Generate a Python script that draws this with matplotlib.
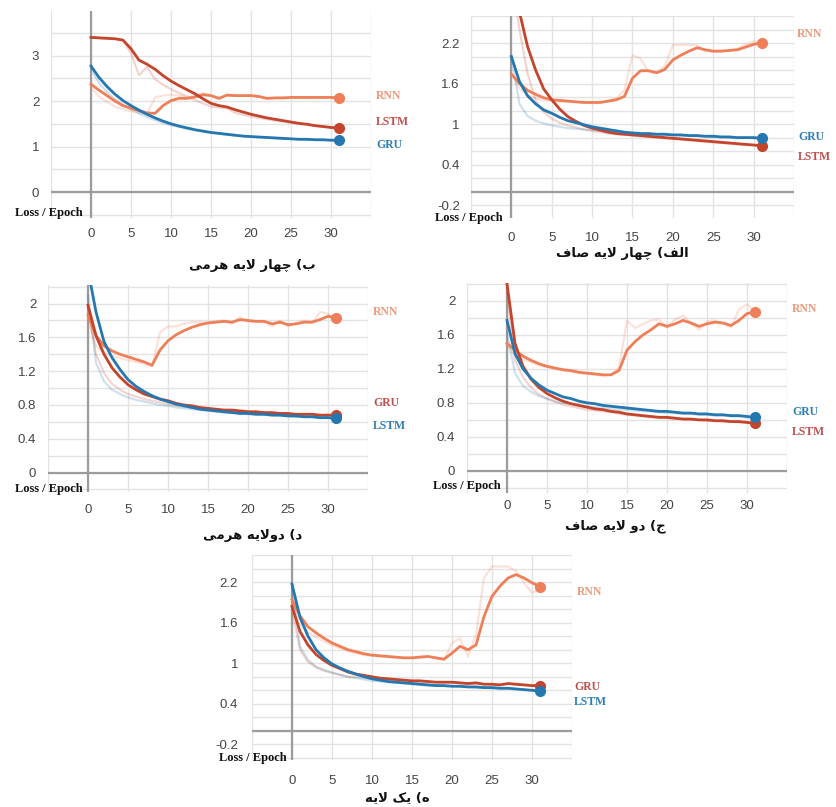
import matplotlib
matplotlib.use("Agg")
import matplotlib.pyplot as plt

W, H = 837, 807

epochs = list(range(32))
x_ticks = [-5, 0, 5, 10, 15, 20, 25, 30, 35]
x_tick_labels = ["", "0", "5", "10", "15", "20", "25", "30", ""]

# panel b (four layer pyramid)
rnn_b = [2.37, 2.24, 2.12, 2.00, 1.90, 1.84, 1.79, 1.74, 1.73, 1.90, 2.01, 2.06, 2.06, 2.09, 2.14, 2.12,
         2.06, 2.13, 2.12, 2.12, 2.12, 2.10, 2.06, 2.07, 2.07, 2.08, 2.08, 2.08, 2.08, 2.08, 2.08, 2.07]
rnn_b_raw = [2.30, 2.10, 1.98, 1.88, 1.82, 1.78, 1.74, 1.72, 2.08, 2.12, 2.14, 2.12, 2.08, 2.12, 2.18, 2.12,
             2.04, 2.15, 2.12, 2.12, 2.13, 2.09, 2.05, 2.07, 2.08, 2.08, 2.08, 2.08, 2.09, 2.08, 2.08, 2.07]
lstm_b = [3.40, 3.39, 3.38, 3.37, 3.34, 3.15, 2.90, 2.81, 2.70, 2.56, 2.44, 2.34, 2.25, 2.16, 2.05, 1.95,
          1.90, 1.87, 1.81, 1.76, 1.71, 1.67, 1.63, 1.60, 1.57, 1.54, 1.51, 1.49, 1.46, 1.44, 1.42, 1.41]
lstm_b_raw = [3.40, 3.38, 3.37, 3.36, 3.34, 3.05, 2.57, 2.75, 2.48, 2.36, 2.26, 2.18, 2.10, 2.02, 1.95, 1.88,
              1.86, 1.84, 1.74, 1.70, 1.66, 1.63, 1.60, 1.57, 1.55, 1.52, 1.50, 1.48, 1.46, 1.44, 1.42, 1.41]
gru_b = [2.77, 2.52, 2.32, 2.15, 2.01, 1.90, 1.80, 1.71, 1.63, 1.56, 1.50, 1.45, 1.41, 1.37, 1.34, 1.31,
         1.29, 1.27, 1.25, 1.23, 1.22, 1.21, 1.20, 1.19, 1.18, 1.17, 1.16, 1.16, 1.15, 1.15, 1.14, 1.14]
gru_b_raw = [2.70, 2.40, 2.20, 2.04, 1.92, 1.82, 1.73, 1.65, 1.58, 1.52, 1.47, 1.43, 1.39, 1.36, 1.33, 1.30,
             1.28, 1.26, 1.24, 1.23, 1.21, 1.20, 1.19, 1.18, 1.17, 1.17, 1.16, 1.15, 1.15, 1.14, 1.14, 1.14]

# panel alef (four layer flat)
rnn_a = [1.74, 1.60, 1.50, 1.44, 1.39, 1.36, 1.35, 1.34, 1.33, 1.32, 1.32, 1.32, 1.34, 1.36, 1.41, 1.68,
         1.79, 1.79, 1.76, 1.81, 1.95, 2.02, 2.08, 2.13, 2.10, 2.08, 2.08, 2.09, 2.10, 2.14, 2.18, 2.20]
rnn_a_raw = [1.75, 1.53, 1.43, 1.38, 1.35, 1.34, 1.33, 1.33, 1.32, 1.32, 1.31, 1.33, 1.35, 1.38, 1.50, 2.02,
             1.97, 1.77, 1.76, 1.86, 2.17, 2.17, 2.17, 2.17, 2.08, 2.07, 2.08, 2.09, 2.12, 2.18, 2.22, 2.22]
lstm_a = [3.40, 2.66, 2.15, 1.80, 1.52, 1.36, 1.22, 1.11, 1.04, 0.98, 0.94, 0.91, 0.88, 0.86, 0.85, 0.84,
          0.83, 0.82, 0.81, 0.80, 0.79, 0.78, 0.77, 0.76, 0.75, 0.74, 0.73, 0.72, 0.71, 0.70, 0.69, 0.68]
lstm_a_raw = [3.20, 2.40, 1.75, 1.35, 1.18, 1.08, 1.02, 0.98, 0.95, 0.92, 0.90, 0.88, 0.86, 0.85, 0.84, 0.83,
              0.82, 0.81, 0.80, 0.79, 0.78, 0.77, 0.76, 0.75, 0.74, 0.73, 0.72, 0.71, 0.70, 0.69, 0.69, 0.68]
gru_a = [2.00, 1.63, 1.42, 1.30, 1.21, 1.16, 1.10, 1.05, 1.02, 0.99, 0.96, 0.94, 0.92, 0.90, 0.88, 0.87,
         0.86, 0.86, 0.85, 0.85, 0.84, 0.84, 0.83, 0.83, 0.82, 0.82, 0.81, 0.81, 0.80, 0.80, 0.80, 0.79]
gru_a_raw = [2.00, 1.30, 1.12, 1.05, 1.01, 0.98, 0.96, 0.94, 0.93, 0.92, 0.91, 0.90, 0.89, 0.88, 0.87, 0.86,
             0.86, 0.85, 0.85, 0.84, 0.84, 0.83, 0.83, 0.82, 0.82, 0.81, 0.81, 0.80, 0.80, 0.80, 0.79, 0.79]

# panel dal (two layer pyramid)
rnn_d = [1.86, 1.62, 1.50, 1.44, 1.40, 1.37, 1.34, 1.31, 1.27, 1.45, 1.56, 1.63, 1.68, 1.72, 1.75, 1.77,
         1.78, 1.79, 1.78, 1.81, 1.80, 1.79, 1.79, 1.76, 1.78, 1.75, 1.76, 1.78, 1.78, 1.81, 1.85, 1.83]
rnn_d_raw = [1.80, 1.50, 1.42, 1.38, 1.36, 1.33, 1.31, 1.29, 1.26, 1.66, 1.73, 1.73, 1.76, 1.78, 1.78, 1.78,
             1.79, 1.80, 1.76, 1.84, 1.79, 1.78, 1.79, 1.73, 1.80, 1.73, 1.77, 1.80, 1.77, 1.90, 1.88, 1.82]
gru_d = [1.98, 1.62, 1.40, 1.24, 1.13, 1.04, 0.98, 0.93, 0.90, 0.87, 0.85, 0.82, 0.80, 0.79, 0.77, 0.76,
         0.75, 0.74, 0.74, 0.73, 0.72, 0.72, 0.71, 0.71, 0.70, 0.70, 0.69, 0.69, 0.69, 0.68, 0.68, 0.68]
gru_d_raw = [1.95, 1.40, 1.18, 1.05, 0.98, 0.93, 0.90, 0.87, 0.85, 0.83, 0.81, 0.79, 0.78, 0.77, 0.76, 0.75,
             0.74, 0.73, 0.73, 0.72, 0.72, 0.71, 0.71, 0.70, 0.70, 0.69, 0.69, 0.69, 0.68, 0.68, 0.68, 0.68]
lstm_d = [2.40, 1.90, 1.55, 1.36, 1.22, 1.10, 1.02, 0.96, 0.91, 0.87, 0.84, 0.81, 0.79, 0.77, 0.75, 0.74,
          0.73, 0.72, 0.71, 0.70, 0.70, 0.69, 0.69, 0.68, 0.68, 0.67, 0.67, 0.66, 0.66, 0.65, 0.65, 0.64]
lstm_d_raw = [2.10, 1.30, 1.08, 0.98, 0.93, 0.89, 0.86, 0.84, 0.82, 0.80, 0.79, 0.77, 0.76, 0.75, 0.74, 0.73,
              0.72, 0.71, 0.71, 0.70, 0.69, 0.69, 0.68, 0.68, 0.67, 0.67, 0.66, 0.66, 0.66, 0.65, 0.65, 0.64]

# panel jim (two layer flat)
rnn_c = [1.50, 1.42, 1.35, 1.30, 1.26, 1.23, 1.21, 1.19, 1.18, 1.16, 1.15, 1.14, 1.13, 1.13, 1.18, 1.42,
         1.52, 1.60, 1.66, 1.73, 1.70, 1.73, 1.77, 1.74, 1.70, 1.73, 1.75, 1.74, 1.71, 1.77, 1.85, 1.87]
rnn_c_raw = [1.48, 1.36, 1.31, 1.28, 1.24, 1.22, 1.20, 1.18, 1.17, 1.15, 1.14, 1.13, 1.12, 1.13, 1.22, 1.77,
             1.68, 1.73, 1.77, 1.78, 1.69, 1.78, 1.83, 1.73, 1.66, 1.76, 1.77, 1.73, 1.69, 1.90, 1.96, 1.88]
lstm_c = [2.20, 1.50, 1.23, 1.08, 0.98, 0.91, 0.86, 0.82, 0.79, 0.77, 0.75, 0.73, 0.72, 0.70, 0.69, 0.67,
          0.66, 0.65, 0.64, 0.63, 0.63, 0.62, 0.61, 0.61, 0.60, 0.60, 0.59, 0.59, 0.58, 0.58, 0.57, 0.56]
lstm_c_raw = [2.10, 1.30, 1.10, 0.98, 0.90, 0.85, 0.81, 0.78, 0.76, 0.74, 0.72, 0.71, 0.70, 0.69, 0.67, 0.66,
              0.65, 0.64, 0.63, 0.63, 0.62, 0.61, 0.61, 0.60, 0.60, 0.59, 0.59, 0.58, 0.58, 0.57, 0.57, 0.56]
gru_c = [1.77, 1.38, 1.20, 1.09, 1.01, 0.95, 0.91, 0.87, 0.85, 0.82, 0.80, 0.79, 0.77, 0.76, 0.75, 0.74,
         0.73, 0.72, 0.71, 0.70, 0.70, 0.69, 0.68, 0.68, 0.67, 0.67, 0.66, 0.66, 0.65, 0.65, 0.64, 0.63]
gru_c_raw = [1.62, 1.15, 1.00, 0.93, 0.88, 0.85, 0.82, 0.80, 0.79, 0.77, 0.76, 0.75, 0.74, 0.73, 0.72, 0.72,
             0.71, 0.70, 0.70, 0.69, 0.68, 0.68, 0.67, 0.67, 0.66, 0.66, 0.65, 0.65, 0.64, 0.64, 0.63, 0.63]

# panel he (one layer)
rnn_e = [1.94, 1.70, 1.54, 1.45, 1.37, 1.30, 1.25, 1.20, 1.17, 1.14, 1.12, 1.11, 1.10, 1.09, 1.08, 1.08,
         1.09, 1.10, 1.08, 1.06, 1.15, 1.25, 1.20, 1.27, 1.69, 1.99, 2.14, 2.26, 2.31, 2.26, 2.19, 2.13]
rnn_e_raw = [1.90, 1.58, 1.46, 1.39, 1.32, 1.27, 1.22, 1.18, 1.15, 1.12, 1.11, 1.10, 1.09, 1.08, 1.08, 1.08,
             1.10, 1.10, 1.07, 1.05, 1.30, 1.37, 1.10, 1.42, 2.26, 2.43, 2.43, 2.43, 2.36, 2.19, 2.04, 2.10]
gru_e = [1.84, 1.47, 1.27, 1.13, 1.04, 0.97, 0.92, 0.87, 0.84, 0.82, 0.80, 0.78, 0.77, 0.76, 0.75, 0.74,
         0.74, 0.73, 0.72, 0.72, 0.72, 0.71, 0.70, 0.71, 0.69, 0.69, 0.68, 0.70, 0.69, 0.68, 0.67, 0.67]
gru_e_raw = [1.80, 1.20, 1.02, 0.94, 0.89, 0.86, 0.83, 0.80, 0.80, 0.79, 0.78, 0.77, 0.76, 0.75, 0.74, 0.73,
             0.73, 0.72, 0.72, 0.72, 0.71, 0.71, 0.70, 0.70, 0.69, 0.69, 0.68, 0.70, 0.68, 0.68, 0.67, 0.67]
lstm_e = [2.17, 1.68, 1.40, 1.20, 1.08, 0.99, 0.93, 0.88, 0.84, 0.80, 0.77, 0.75, 0.73, 0.72, 0.71, 0.70,
          0.69, 0.68, 0.67, 0.67, 0.66, 0.66, 0.65, 0.65, 0.64, 0.64, 0.63, 0.63, 0.62, 0.61, 0.60, 0.59]
lstm_e_raw = [2.10, 1.25, 1.05, 0.95, 0.90, 0.86, 0.83, 0.80, 0.78, 0.76, 0.74, 0.73, 0.72, 0.71, 0.70, 0.69,
              0.68, 0.67, 0.67, 0.66, 0.66, 0.65, 0.65, 0.64, 0.64, 0.63, 0.63, 0.63, 0.62, 0.61, 0.60, 0.59]

captions = ["ب) چهار لایه هرمی", "الف) چهار لایه صاف", "د) دولایه هرمی", "ج) دو لایه صاف", "ه) یک لایه"]

C_RNN = "#ef7f58"
C_RED = "#c4442c"
C_BLUE = "#2577b0"
L_RNN = "#eb9c7e"
L_RED = "#c0504d"
L_BLUE = "#2f7fb5"

# Arabic presentation forms: isolated, final, initial, medial
FORMS = {
    "ا": ("\uFE8D", "\uFE8E"),
    "ب": ("\uFE8F", "\uFE90", "\uFE91", "\uFE92"),
    "چ": ("\uFB7A", "\uFB7B", "\uFB7C", "\uFB7D"),
    "ه": ("\uFEE9", "\uFEEA", "\uFEEB", "\uFEEC"),
    "ر": ("\uFEAD", "\uFEAE"),
    "ل": ("\uFEDD", "\uFEDE", "\uFEDF", "\uFEE0"),
    "ی": ("\uFBFC", "\uFBFD", "\uFBFE", "\uFBFF"),
    "م": ("\uFEE1", "\uFEE2", "\uFEE3", "\uFEE4"),
    "ف": ("\uFED1", "\uFED2", "\uFED3", "\uFED4"),
    "ص": ("\uFEB9", "\uFEBA", "\uFEBB", "\uFEBC"),
    "د": ("\uFEA9", "\uFEAA"),
    "و": ("\uFEED", "\uFEEE"),
    "ج": ("\uFE9D", "\uFE9E", "\uFE9F", "\uFEA0"),
    "ک": ("\uFB8E", "\uFB8F", "\uFB90", "\uFB91"),
    "لا": ("\uFEFB", "\uFEFC"),
}


def shape_word(word):
    letters = []
    i = 0
    while i < len(word):
        if word[i] == "ل" and i + 1 < len(word) and word[i + 1] == "ا":
            letters.append("لا")
            i += 2
        else:
            letters.append(word[i])
            i += 1
    out = []
    for k, ch in enumerate(letters):
        forms = FORMS[ch]
        prev = k > 0 and len(FORMS[letters[k - 1]]) == 4
        nxt = k + 1 < len(letters) and len(forms) == 4
        if prev and nxt:
            out.append(forms[3])
        elif prev:
            out.append(forms[1])
        elif nxt:
            out.append(forms[2])
        else:
            out.append(forms[0])
    return "".join(reversed(out))


def shape_caption(text):
    # matplotlib has no bidi: lay the right-to-left line out in visual order
    parts = []
    for token in text.split(" "):
        lead = "(" if token.endswith(")") else ""
        parts.append(lead + shape_word(token.rstrip(")")))
    return " ".join(reversed(parts))


def fx(px):
    return px / W


def fy(py):
    return 1 - py / H


panels = [
    dict(box=(51, 11, 371, 218), ylim=(-0.57, 3.98), ygrid=[-0.5 + 0.5 * i for i in range(9)],
         ylab={0.0: "0", 1.0: "1", 2.0: "2", 3.0: "3"}, xpad=7, ypad=8.5,
         series=[("RNN", rnn_b, rnn_b_raw, C_RNN), ("LSTM", lstm_b, lstm_b_raw, C_RED), ("GRU", gru_b, gru_b_raw, C_BLUE)],
         labels=[("RNN", 376, 96, L_RNN), ("LSTM", 376, 122, L_RED), ("GRU", 376, 145, L_BLUE)],
         loss=(83, 213), cap=(252, 266)),
    dict(box=(471, 16, 794, 218), ylim=(-0.39, 2.6),
         ylab={-0.2: "-0.2", 0.4: "0.4", 1.0: "1", 1.6: "1.6", 2.2: "2.2"}, xpad=10, ypad=8,
         series=[("RNN", rnn_a, rnn_a_raw, C_RNN), ("LSTM", lstm_a, lstm_a_raw, C_RED), ("GRU", gru_a, gru_a_raw, C_BLUE)],
         labels=[("RNN", 797, 34, L_RNN), ("GRU", 798, 137, L_BLUE), ("LSTM", 798, 157, L_RED)],
         loss=(503, 218), cap=(622, 254)),
    dict(box=(48, 285, 368, 492), ylim=(-0.23, 2.22),
         ylab={0.0: "0", 0.4: "0.4", 0.8: "0.8", 1.2: "1.2", 1.6: "1.6", 2.0: "2"}, xpad=8.5, ypad=8.5,
         series=[("RNN", rnn_d, rnn_d_raw, C_RNN), ("GRU", gru_d, gru_d_raw, C_RED), ("LSTM", lstm_d, lstm_d_raw, C_BLUE)],
         labels=[("RNN", 373, 312, L_RNN), ("GRU", 373, 403, L_RED), ("LSTM", 373, 426, L_BLUE)],
         loss=(83, 489), cap=(253, 536)),
    dict(box=(467, 283, 787, 493), ylim=(-0.26, 2.21),
         ylab={0.0: "0", 0.4: "0.4", 0.8: "0.8", 1.2: "1.2", 1.6: "1.6", 2.0: "2"}, xpad=5, ypad=8.5,
         series=[("RNN", rnn_c, rnn_c_raw, C_RNN), ("LSTM", lstm_c, lstm_c_raw, C_RED), ("GRU", gru_c, gru_c_raw, C_BLUE)],
         labels=[("RNN", 792, 309, L_RNN), ("GRU", 792, 412, L_BLUE), ("LSTM", 792, 432, L_RED)],
         loss=(501, 486), cap=(615, 526)),
    dict(box=(252, 555, 572, 760), ylim=(-0.43, 2.6),
         ylab={-0.2: "-0.2", 0.4: "0.4", 1.0: "1", 1.6: "1.6", 2.2: "2.2"}, xpad=11, ypad=10,
         series=[("RNN", rnn_e, rnn_e_raw, C_RNN), ("GRU", gru_e, gru_e_raw, C_RED), ("LSTM", lstm_e, lstm_e_raw, C_BLUE)],
         labels=[("RNN", 577, 592, L_RNN), ("GRU", 574, 687, L_RED), ("LSTM", 574, 702, L_BLUE)],
         loss=(287, 758), cap=(397, 798)),
]

fig = plt.figure(figsize=(W / 100, H / 100), dpi=100)
fig.patch.set_facecolor("white")

for panel, caption in zip(panels, captions):
    left, top, right, bottom = panel["box"]
    ax = fig.add_axes([fx(left), fy(bottom), (right - left) / W, (bottom - top) / H])
    lo, hi = panel["ylim"]
    if "ygrid" in panel:
        ygrid = panel["ygrid"]
    else:
        ygrid = [round(-0.4 + 0.2 * i, 2) for i in range(16)]
        ygrid = [v for v in ygrid if lo - 1e-6 <= v <= hi + 1e-6]
    ylabs = {round(k, 2): v for k, v in panel["ylab"].items()}
    ax.set_yticks(ygrid)
    ax.set_yticklabels([ylabs.get(round(v, 2), "") for v in ygrid])
    ax.set_xticks(x_ticks)
    ax.set_xticklabels(x_tick_labels)
    ax.set_xlim(-5, 35)
    ax.set_ylim(lo, hi)
    ax.grid(True, color="#e3e3e3", linewidth=1.0)
    ax.set_axisbelow(True)
    for s in ax.spines.values():
        s.set_visible(False)
    ax.tick_params(axis="both", length=0, labelsize=9.5, labelcolor="#444444")
    ax.tick_params(axis="x", pad=panel["xpad"])
    ax.tick_params(axis="y", pad=panel["ypad"])
    for lab in ax.get_xticklabels() + ax.get_yticklabels():
        lab.set_fontfamily("Liberation Sans")
    ax.axhline(0, color="#9c9c9c", linewidth=1.6, zorder=1)
    ax.axvline(0, color="#9c9c9c", linewidth=1.6, zorder=1)

    for name, smooth, raw, color in panel["series"]:
        ax.plot(epochs, raw, color=color, alpha=0.22, linewidth=1.6, zorder=2)
    for name, smooth, raw, color in panel["series"]:
        ax.plot(epochs, smooth, color=color, linewidth=2.0, zorder=3)
        ax.plot(epochs[-1:], smooth[-1:], "o", color=color, markersize=7, zorder=4, clip_on=False)

    for text, px, py, color in panel["labels"]:
        fig.text(fx(px), fy(py), text, color=color, fontsize=8.5, fontweight="bold",
                 family="Liberation Serif", ha="left", va="center")
    lx, ly = panel["loss"]
    fig.text(fx(lx), fy(ly), "Loss / Epoch", color="#111111", fontsize=9, fontweight="bold",
             family="Liberation Serif", ha="right", va="center")
    cx, cy = panel["cap"]
    fig.text(fx(cx), fy(cy), shape_caption(caption), color="#111111", fontsize=9.5, fontweight="bold",
             family=["DejaVu Sans", "Noto Sans"], ha="center", va="center")

fig.savefig("out.png", dpi=100, facecolor="white")
